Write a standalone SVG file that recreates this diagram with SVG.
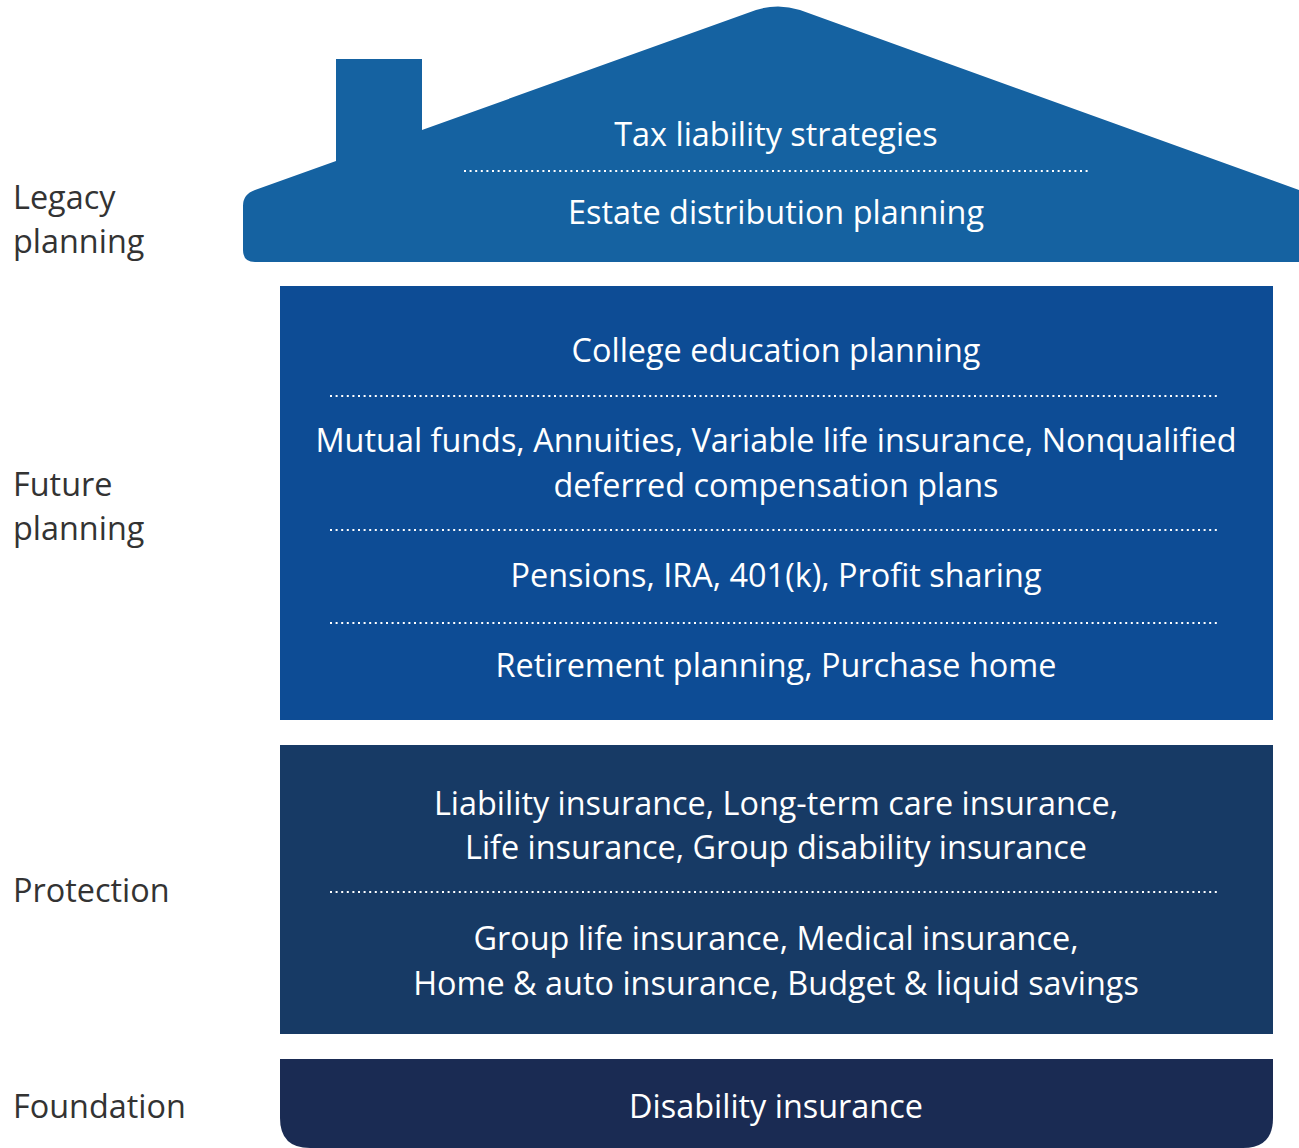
<svg xmlns="http://www.w3.org/2000/svg" width="1299" height="1148" viewBox="0 0 1299 1148">
  <style>
    .side { font-family: "Open Sans", "Noto Sans", sans-serif; font-size: 32.4px; fill: #333333; }
    .item { font-family: "Open Sans", "Noto Sans", sans-serif; font-size: 32.4px; fill: #ffffff; text-anchor: middle; }
    .sep { stroke: #ffffff; stroke-width: 2; stroke-dasharray: 2 3.6; fill: none; }
  </style>
  <rect width="1299" height="1148" fill="#ffffff"/>

  <!-- Roof tier: Legacy planning -->
  <g id="legacy">
    <path d="M 255 190 L 336 161 L 336 59 L 422 59 L 422 130 L 756 10 Q 778 3 800 10 L 1299 190 L 1299 262 L 255 262 Q 243 262 243 250 L 243 206 Q 243 194 255 190 Z" fill="#1562A1"/>
    <line class="sep" x1="464" y1="171" x2="1088" y2="171"/>
    <text class="item" x="776" y="146">Tax liability strategies</text>
    <text class="item" x="776" y="224">Estate distribution planning</text>
  </g>

  <!-- Future planning tier -->
  <g id="future">
    <rect x="280" y="286" width="993" height="434" fill="#0D4C95"/>
    <line class="sep" x1="330" y1="396" x2="1218" y2="396"/>
    <line class="sep" x1="330" y1="530" x2="1218" y2="530"/>
    <line class="sep" x1="330" y1="623" x2="1218" y2="623"/>
    <text class="item" x="776" y="362">College education planning</text>
    <text class="item" x="776" y="452">Mutual funds, Annuities, Variable life insurance, Nonqualified</text>
    <text class="item" x="776" y="497">deferred compensation plans</text>
    <text class="item" x="776" y="587">Pensions, IRA, 401(k), Profit sharing</text>
    <text class="item" x="776" y="677">Retirement planning, Purchase home</text>
  </g>

  <!-- Protection tier -->
  <g id="protection">
    <rect x="280" y="745" width="993" height="289" fill="#173A65"/>
    <line class="sep" x1="330" y1="892" x2="1218" y2="892"/>
    <text class="item" x="776" y="815">Liability insurance, Long-term care insurance,</text>
    <text class="item" x="776" y="859">Life insurance, Group disability insurance</text>
    <text class="item" x="776" y="950">Group life insurance, Medical insurance,</text>
    <text class="item" x="776" y="995">Home &amp; auto insurance, Budget &amp; liquid savings</text>
  </g>

  <!-- Foundation tier -->
  <g id="foundation">
    <path d="M 280 1059 L 1273 1059 L 1273 1118 Q 1273 1148 1243 1148 L 310 1148 Q 280 1148 280 1118 Z" fill="#1A2B53"/>
    <text class="item" x="776" y="1118">Disability insurance</text>
  </g>

  <!-- Tier labels -->
  <g id="labels">
    <text class="side" x="13" y="209">Legacy</text>
    <text class="side" x="13" y="253">planning</text>
    <text class="side" x="13" y="496">Future</text>
    <text class="side" x="13" y="540">planning</text>
    <text class="side" x="13" y="902">Protection</text>
    <text class="side" x="13" y="1118">Foundation</text>
  </g>
</svg>
